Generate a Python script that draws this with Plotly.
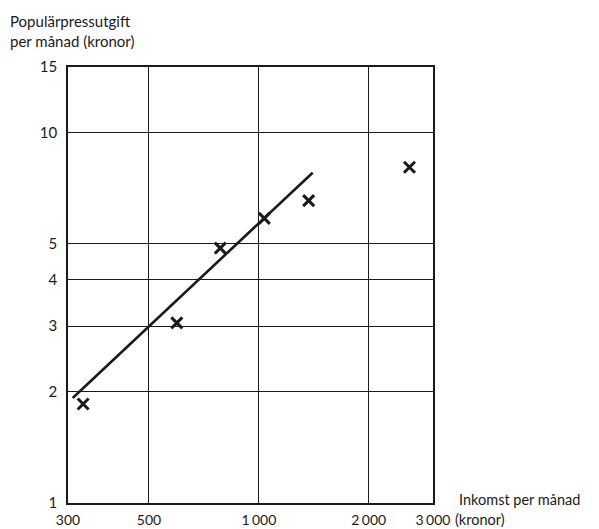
import plotly.graph_objects as go

# Income per month (kronor) and popular press spending per month (kronor)
income = [330, 596, 784, 1035, 1369, 2586]
spending = [1.85, 3.06, 4.87, 5.86, 6.54, 8.05]

# Fitted trend line endpoints
trend_income = [309, 1404]
trend_spending = [1.92, 7.78]

x_ticks = [300, 500, 1000, 2000, 3000]
x_ticktext = ["300", "500", "1\u2006000", "2\u2006000", "3\u2006000"]
y_ticks = [1, 2, 3, 4, 5, 10, 15]
y_ticktext = ["1", "2", "3", "4", "5", "10", "15"]

ink = "#1a1a1a"
font_family = "Lato, 'DejaVu Sans', sans-serif"
fs = 15

fig = go.Figure()
fig.add_trace(go.Scatter(
    x=trend_income, y=trend_spending, mode="lines",
    line=dict(color=ink, width=2.6), showlegend=False, hoverinfo="skip",
))
fig.add_trace(go.Scatter(
    x=income, y=spending, mode="markers",
    marker=dict(symbol="x-thin", size=11, line=dict(color=ink, width=3)),
    showlegend=False,
))

axis_common = dict(
    type="log", showgrid=True, gridcolor=ink, gridwidth=1.4,
    showline=True, linecolor=ink, linewidth=1.8, mirror=True,
    ticks="", zeroline=False, automargin=False,
)

fig.update_xaxes(
    **axis_common,
    range=[2.4771, 3.4771],
    tickvals=x_ticks, ticktext=x_ticktext,
    ticklabelstandoff=3,
    tickfont=dict(family=font_family, size=14, color=ink),
)
fig.update_yaxes(
    **axis_common,
    range=[0, 1.1761],
    tickvals=y_ticks, ticktext=y_ticktext,
    ticklabelstandoff=6,
    tickfont=dict(family=font_family, size=fs, color=ink),
)

fig.add_annotation(
    xref="paper", yref="paper", x=-0.164, y=1.130,
    xanchor="left", yanchor="top", align="left", showarrow=False,
    text="Populärpressutgift<br>per månad (kronor)",
    font=dict(family=font_family, size=fs, color=ink),
)
fig.add_annotation(
    xref="paper", yref="paper", x=1.068, y=0.008,
    xanchor="left", yanchor="middle", align="left", showarrow=False,
    text="Inkomst per månad", borderpad=0,
    font=dict(family=font_family, size=14.5, color=ink),
)
fig.add_annotation(
    xref="paper", yref="paper", x=1.058, y=-0.037,
    xanchor="left", yanchor="middle", align="left", showarrow=False,
    text="(kronor)", borderpad=0,
    font=dict(family=font_family, size=14.5, color=ink),
)

fig.update_layout(
    width=599, height=529,
    margin=dict(l=68, r=166, t=67, b=26),
    paper_bgcolor="white", plot_bgcolor="white",
    font=dict(family=font_family, size=fs, color=ink),
)

fig.write_html("out.html")
